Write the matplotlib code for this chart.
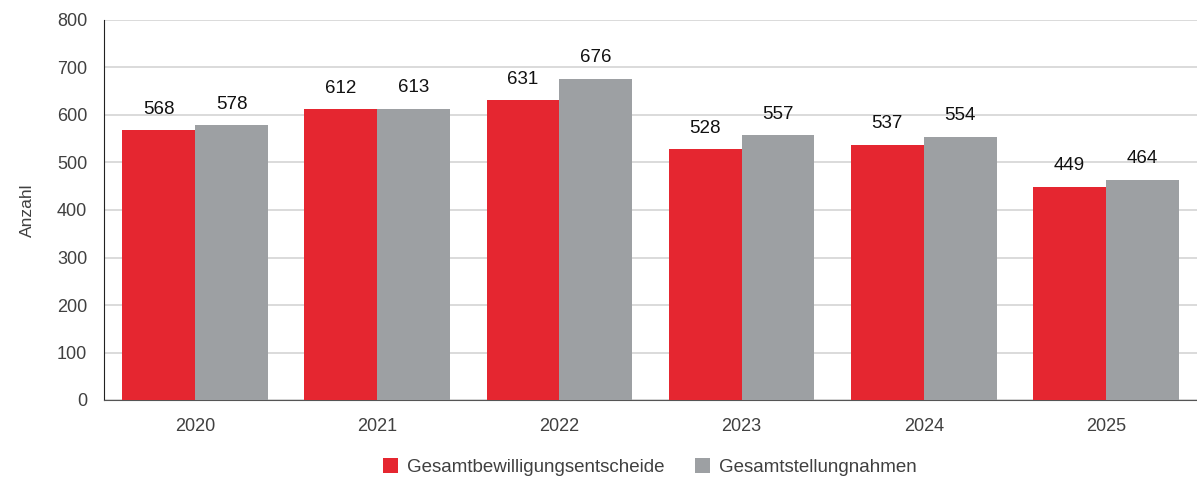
import matplotlib
matplotlib.use("Agg")
import matplotlib.pyplot as plt
import numpy as np

plt.rcParams['font.family'] = ['Liberation Sans', 'DejaVu Sans']

years = ["2020", "2021", "2022", "2023", "2024", "2025"]
bewilligung = [568, 612, 631, 528, 537, 449]
stellungnahmen = [578, 613, 676, 557, 554, 464]
series_names = ["Gesamtbewilligungsentscheide", "Gesamtstellungnahmen"]
yticks = [0, 100, 200, 300, 400, 500, 600, 700, 800]

red = "#e52630"
gray = "#9da0a3"

fig = plt.figure(figsize=(11.97, 4.83), dpi=100)
ax = fig.add_axes([104/1197, 83/483, 1093/1197, 380/483])

x = np.arange(len(years))
w = 0.4
b1 = ax.bar(x - w/2, bewilligung, w, color=red, label=series_names[0], zorder=3)
b2 = ax.bar(x + w/2, stellungnahmen, w, color=gray, label=series_names[1], zorder=3)

for rects, vals in ((b1, bewilligung), (b2, stellungnahmen)):
    for r, v in zip(rects, vals):
        ax.annotate(str(v), (r.get_x() + r.get_width()/2, v), xytext=(0, 9),
                    textcoords="offset points", ha="center", va="bottom",
                    fontsize=13.5, color="#111111")

ax.set_xlim(-0.5, len(years) - 0.5)
ax.set_ylim(0, 800)
ax.set_yticks(yticks)
ax.set_xticks(x)
ax.set_xticklabels(years)
ax.tick_params(axis='both', length=0, labelsize=13, colors="#404040")
ax.tick_params(axis='x', pad=13)
ax.tick_params(axis='y', pad=12)
ax.yaxis.grid(True, color="#d4d4d4", linewidth=1.2, zorder=0)
ax.set_axisbelow(True)
for s in ("top", "right"):
    ax.spines[s].set_visible(False)
ax.spines['left'].set_color("#222222")
ax.spines['bottom'].set_color("#555555")
ax.set_ylabel("Anzahl", fontsize=12.5, color="#404040", labelpad=16)

fig.legend(handles=[b1, b2], labels=series_names, loc="center", bbox_to_anchor=(650/1197, 1 - 467/483),
           ncol=2, frameon=False, fontsize=13.5, handlelength=0.8, handleheight=0.8,
           handletextpad=0.5, columnspacing=1.6, labelcolor="#404040")

fig.savefig("out.png", dpi=100)
